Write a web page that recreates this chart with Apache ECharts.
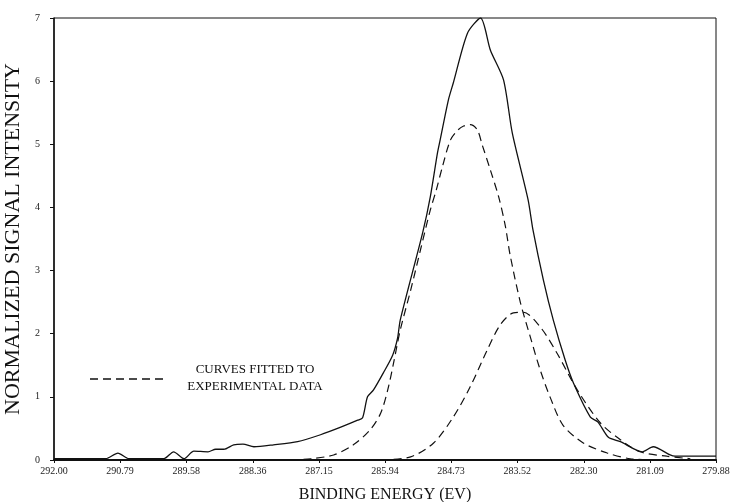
<!DOCTYPE html>
<html><head><meta charset="utf-8">
<script src="https://cdn.jsdelivr.net/npm/echarts@6/dist/echarts.min.js"></script>
<style>html,body{margin:0;padding:0;background:#fff}#c{width:736px;height:502px}</style>
</head><body><div id="c"></div>
<script>
var xTickLabels = ['292.00','290.79','289.58','288.36','287.15','285.94','284.73','283.52','282.30','281.09','279.88'];
var yTickLabels = ['0','1','2','3','4','5','6','7'];

// Experimental data (solid) : binding energy (eV), intensity
var expEnergy = [292.00,291.51,291.05,290.83,290.63,289.99,289.81,289.62,289.44,289.18,289.04,288.89,288.71,288.54,288.34,287.98,287.54,287.12,286.75,286.44,286.35,286.26,286.15,285.97,285.80,285.71,285.66,285.25,285.11,284.98,284.93,284.78,284.69,284.43,284.19,284.01,283.77,283.61,283.32,283.23,283.04,282.86,282.64,282.49,282.18,282.04,281.85,281.63,281.23,281.03,280.72,280.63,279.88];
var expIntensity = [0.02,0.02,0.02,0.11,0.02,0.02,0.13,0.02,0.14,0.13,0.17,0.17,0.24,0.25,0.21,0.24,0.29,0.40,0.52,0.63,0.67,1.00,1.11,1.38,1.66,1.93,2.22,3.60,4.17,4.86,5.07,5.70,5.97,6.76,7.00,6.49,6.02,5.18,4.12,3.64,2.85,2.22,1.58,1.22,0.68,0.60,0.36,0.29,0.13,0.21,0.08,0.06,0.06];

// Fitted curve 1 (dashed, larger peak)
var fit1Energy = [287.67,287.30,286.88,286.52,286.21,286.02,285.89,285.78,285.66,285.47,285.29,285.11,285.00,284.89,284.74,284.60,284.50,284.38,284.25,284.16,284.01,283.86,283.74,283.65,283.46,283.28,283.10,282.91,282.68,282.31,281.87,281.45,280.90];
var fit1Intensity = [0.00,0.02,0.08,0.24,0.48,0.74,1.11,1.55,2.06,2.69,3.33,3.96,4.28,4.64,5.07,5.23,5.29,5.31,5.23,4.99,4.59,4.17,3.72,3.25,2.49,1.95,1.43,0.98,0.55,0.27,0.11,0.02,0.00];

// Fitted curve 2 (dashed, smaller peak)
var fit2Energy = [286.02,285.47,285.05,284.69,284.38,284.07,283.83,283.59,283.41,283.10,282.79,282.42,282.00,281.63,281.27,280.78,280.35];
var fit2Intensity = [0.00,0.05,0.27,0.68,1.16,1.74,2.14,2.33,2.34,2.11,1.69,1.11,0.59,0.32,0.13,0.06,0.02];

function zip(a,b){return a.map(function(v,i){return [v,b[i]];});}

var chart = echarts.init(document.getElementById('c'), null, {renderer:'canvas'});
var serif = 'Liberation Serif';
var dashStyle = {type:[8,5], width:1.2, color:'#111'};
chart.setOption({
  animation:false,
  backgroundColor:'#fff',
  grid:{left:54,right:20,top:18,bottom:42,show:true,borderColor:'#111',borderWidth:1,outerBoundsMode:'none',containLabel:false},
  xAxis:{
    type:'value', min:279.88, max:292.00, inverse:true,
    name:'BINDING ENERGY (EV)', nameLocation:'middle', nameGap:27,
    nameTextStyle:{fontFamily:serif,fontSize:16,color:'#111'},
    axisLine:{show:true,lineStyle:{color:'#111',width:2}},
    axisTick:{show:true,length:3,customValues:xTickLabels.map(parseFloat),lineStyle:{color:'#111'}},
    axisLabel:{customValues:xTickLabels.map(parseFloat),fontFamily:serif,fontSize:10,color:'#222',margin:6,
      formatter:function(v){return v.toFixed(2);}},
    splitLine:{show:false}
  },
  yAxis:{
    type:'value', min:0, max:7, interval:1,
    name:'NORMALIZED SIGNAL INTENSITY', nameLocation:'middle', nameGap:22, nameRotate:90,
    nameTextStyle:{fontFamily:serif,fontSize:22,color:'#111'},
    axisLine:{show:true,lineStyle:{color:'#111',width:1.5}},
    axisTick:{show:true,length:4,lineStyle:{color:'#111'}},
    axisLabel:{fontFamily:serif,fontSize:10,color:'#222',margin:14,
      formatter:function(v){return yTickLabels[Math.round(v)];}},
    splitLine:{show:false}
  },
  series:[
    {type:'line',data:zip(expEnergy,expIntensity),showSymbol:false,smooth:0.25,
      lineStyle:{color:'#111',width:1.3},z:3},
    {type:'line',data:zip(fit1Energy,fit1Intensity),showSymbol:false,smooth:0.3,
      lineStyle:dashStyle,z:2},
    {type:'line',data:zip(fit2Energy,fit2Intensity),showSymbol:false,smooth:0.3,
      lineStyle:dashStyle,z:2}
  ],
  graphic:[
    {type:'line',shape:{x1:90,y1:379,x2:167,y2:379},style:{stroke:'#111',lineWidth:1.3,lineDash:[8,5]}},
    {type:'text',x:255,y:370,style:{text:'CURVES FITTED TO',font:'13px "Liberation Serif"',fill:'#111',align:'center',verticalAlign:'middle'}},
    {type:'text',x:255,y:387,style:{text:'EXPERIMENTAL DATA',font:'13px "Liberation Serif"',fill:'#111',align:'center',verticalAlign:'middle'}}
  ]
});
</script></body></html>
